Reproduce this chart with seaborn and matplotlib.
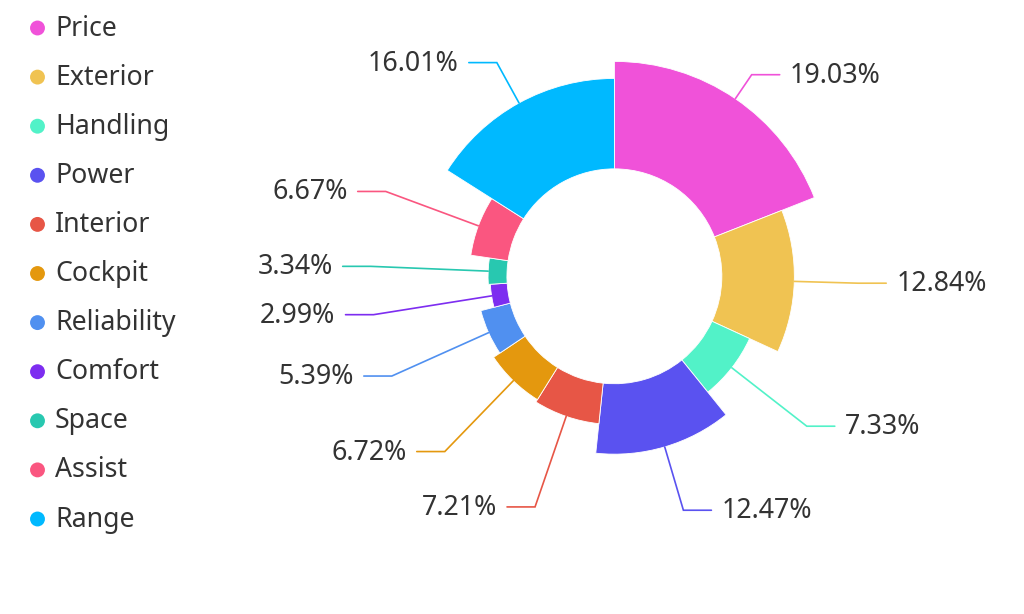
import numpy as np
import matplotlib
matplotlib.use("Agg")
import matplotlib.pyplot as plt
from matplotlib.patches import Wedge
import seaborn as sns

# ---- data ----
categories = ["Price", "Exterior", "Handling", "Power", "Interior", "Cockpit",
              "Reliability", "Comfort", "Space", "Assist", "Range"]
shares = [19.03, 12.84, 7.33, 12.47, 7.21, 6.72, 5.39, 2.99, 3.34, 6.67, 16.01]
colors = ["#f052d9", "#f0c352", "#52f2c8", "#5a52f0", "#e75646", "#e4980e",
          "#5090f0", "#7d2df0", "#28c8b0", "#fa5680", "#00b9ff"]

sns.set_theme(style="white")
plt.rcParams["font.family"] = ["Noto Sans", "DejaVu Sans"]

W, H = 1024, 614
fig = plt.figure(figsize=(W / 100, H / 100), dpi=100)
ax = fig.add_axes([0, 0, 1, 1])
ax.set_xlim(0, W)
ax.set_ylim(0, H)
ax.axis("off")

cx, cy = 0.60 * W, H - 0.45 * H
base = min(W, H) / 2
R0, R = 0.35 * base, 0.70 * base
vals = np.array(shares, dtype=float)
total = vals.sum()
vmax = vals.max()
text_color = "#333333"
fs_label = 19.3

cum = 0.0
for name, v, col in zip(categories, vals, colors):
    start = cum / total * 360.0
    end = (cum + v) / total * 360.0
    cum += v
    r = R0 + (R - R0) * v / vmax
    ax.add_patch(Wedge((cx, cy), r, 90 - end, 90 - start, width=r - R0,
                       facecolor=col, edgecolor="white", linewidth=0.6))
    mid = np.deg2rad((start + end) / 2)
    dx, dy = np.sin(mid), np.cos(mid)
    side = 1 if dx >= 0 else -1
    x1, y1 = cx + r * dx, cy + r * dy
    re = R + 29
    x2, y2 = cx + re * dx, cy + re * dy
    x3 = x2 + side * 28
    ax.plot([x1, x2, x3], [y1, y2, y2], color=col, lw=1.2,
            solid_joinstyle="miter")
    ax.text(x3 + side * 10, y2 - 1, f"{v:.2f}%", ha="left" if side > 0 else "right",
            va="center", fontsize=fs_label, color=text_color)

# legend
for i, (name, col) in enumerate(zip(categories, colors)):
    yy = H - (28 + i * 49.1)
    ax.scatter([37.5], [yy], s=115, color=col, edgecolor="none")
    ax.text(55, yy - 0.5, name, ha="left", va="center", fontsize=19.2, color=text_color)

fig.savefig("out.png", dpi=100, facecolor="white")
